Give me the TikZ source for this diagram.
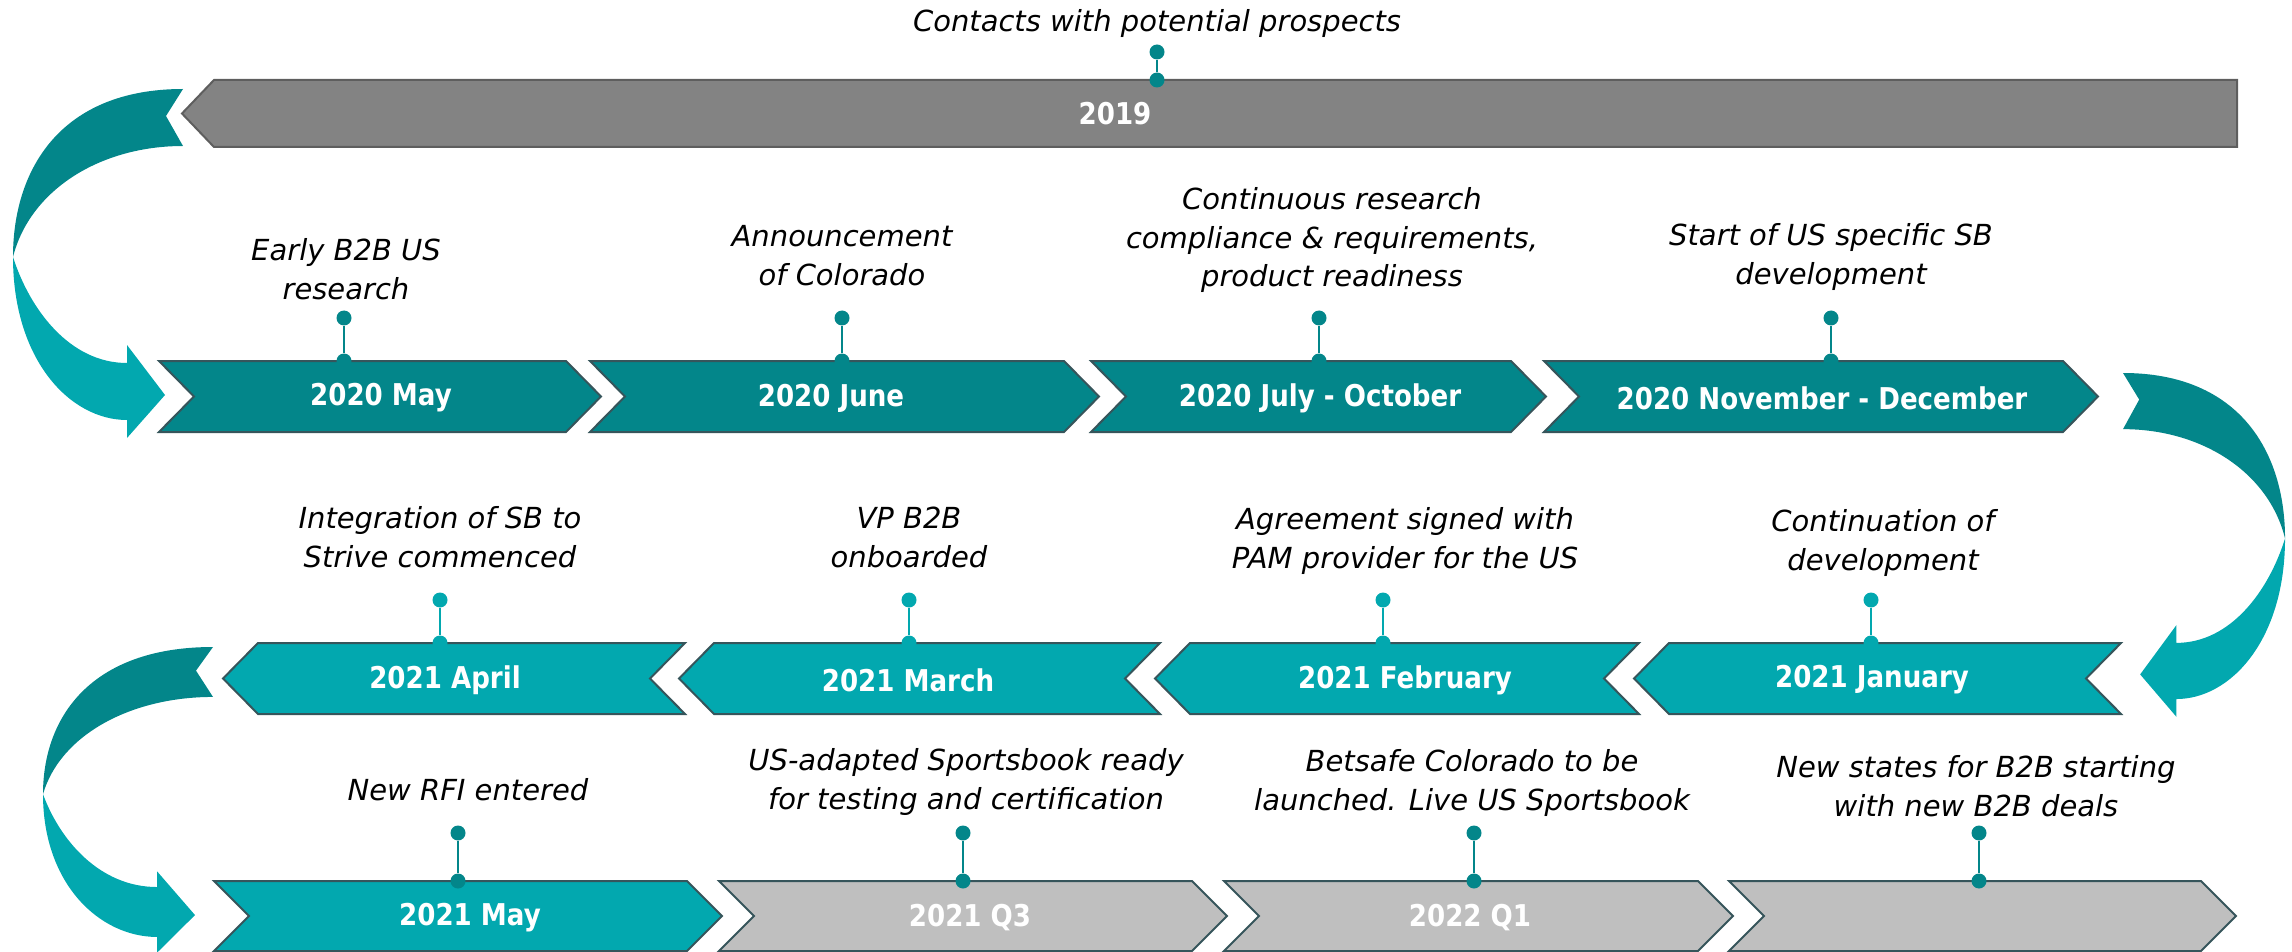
\documentclass[tikz,border=0pt]{standalone}
\usepackage{fontspec}
\setmainfont{DejaVu Sans}
\newfontfamily\barfont{DejaVu Sans}[FakeStretch=0.87]
\definecolor{dteal}{HTML}{03868A}
\definecolor{lteal}{HTML}{02A8AF}
\definecolor{edge}{HTML}{36555B}
\definecolor{gbar}{HTML}{838383}
\definecolor{gedge}{HTML}{5E5E5E}
\definecolor{lgray}{HTML}{BFBFBF}
\newcommand\chevr[5]{%
  \draw[#1] (#2,#4) -- ({#3-35},#4) -- (#3,{(#4+#5)/2}) -- ({#3-35},#5) -- (#2,#5) -- ({#2+35},{(#4+#5)/2}) -- cycle;}
\newcommand\chevl[5]{%
  \draw[#1] (#2,{(#4+#5)/2}) -- ({#2+35},#4) -- (#3,#4) -- ({#3-35},{(#4+#5)/2}) -- (#3,#5) -- ({#2+35},#5) -- cycle;}
\newcommand\curvarrow{%
  \fill[dteal] (0,0) .. controls (-123,0) and (-170,81) .. (-170,168)
     .. controls (-153,101) and (-83,57) .. (0,57) -- (-17,27) -- cycle;
  \fill[lteal] (-170,168) .. controls (-170,271) and (-113,331) .. (-56,331)
     -- (-56,349) -- (-18,306) -- (-56,256) -- (-56,274)
     .. controls (-113,274) and (-153,221) .. (-170,168) -- cycle;}
\tikzset{
  barD/.style={fill=dteal, draw=edge, line width=1pt, line join=miter},
  barL/.style={fill=lteal, draw=edge, line width=1pt, line join=miter},
  barLG/.style={fill=lgray, draw=edge, line width=1pt, line join=miter},
  barG/.style={fill=gbar, draw=gedge, line width=1pt, line join=miter},
  lbl/.style={align=center, inner sep=0pt, font=\fontsize{14.5}{19.5}\selectfont\itshape},
  bartxt/.style={inner sep=0pt, text=white, font=\barfont\fontsize{15}{18}\selectfont\bfseries},
  pindot/.style={circle, fill=#1, inner sep=0pt, minimum size=7.5pt},
  pinline/.style={draw=#1, line width=1.3pt}
}
\begin{document}
\begin{tikzpicture}[x=0.5pt,y=-0.5pt]
\useasboundingbox (0,0) rectangle (2292,952);

% curved arrows
\begin{scope}[shift={(183,89)}]\curvarrow\end{scope}
\begin{scope}[shift={(2123,373)}, xscale=-0.953, yscale=0.985]\curvarrow\end{scope}
\begin{scope}[shift={(213,647)}, yscale=0.876]\curvarrow\end{scope}

% 2019 bar
\draw[barG] (182,113.5) -- (214,80) -- (2237,80) -- (2237,147) -- (214,147) -- cycle;

% row 2020
\chevr{barD}{159}{601}{361}{432}
\chevr{barD}{590}{1099}{361}{432}
\chevr{barD}{1091}{1546}{361}{432}
\chevr{barD}{1544}{2098}{361}{432}

% row 2021 (left)
\chevl{barL}{223}{685}{643}{714}
\chevl{barL}{679}{1160}{643}{714}
\chevl{barL}{1155}{1639}{643}{714}
\chevl{barL}{1634}{2121}{643}{714}

% bottom row
\chevr{barL}{214}{722}{881}{951}
\chevr{barLG}{719}{1227}{881}{951}
\chevr{barLG}{1224}{1733}{881}{951}
\chevr{barLG}{1729}{2236}{881}{951}

% bar texts
\node[bartxt] (t2019) at (1115,114) {2019};
\node[bartxt] (tmay20) at (381,398) {2020 May};
\node[bartxt] (tjun20) at (831,398) {2020 June};
\node[bartxt] (tjul20) at (1320,398) {2020 July - October};
\node[bartxt] (tnov20) at (1822,398) {2020 November - December};
\node[bartxt] (tapr21) at (445,680) {2021 April};
\node[bartxt] (tmar21) at (908,680) {2021 March};
\node[bartxt] (tfeb21) at (1405,680) {2021 February};
\node[bartxt] (tjan21) at (1872,680) {2021 January};
\node[bartxt] (tmay21) at (470,918) {2021 May};
\node[bartxt] (tq321) at (970,918) {2021 Q3};
\node[bartxt] (tq122) at (1470,918) {2022 Q1};

% pins
\foreach \n/\x/\ya/\yb/\c in {a/1157/52/80/dteal,
    b1/344/318/361/dteal, b2/842/318/361/dteal, b3/1319/318/361/dteal, b4/1831/318/361/dteal,
    c1/440/600/643/lteal, c2/909/600/643/lteal, c3/1383/600/643/lteal, c4/1871/600/643/lteal,
    d1/458/833/881/dteal, d2/963/833/881/dteal, d3/1474/833/881/dteal, d4/1979/833/881/dteal}{
  \node[pindot=\c] (pin\n top) at (\x,\ya) {};
  \node[pindot=\c] (pin\n bot) at (\x,\yb) {};
  \draw[pinline=\c] (pin\n top) -- (pin\n bot);
}

% labels
\node[lbl] (la) at (1157,24) {Contacts with potential prospects};
\node[lbl] (lb1) at (346,269) {Early B2B US\\research};
\node[lbl] (lb2) at (842,256) {Announcement\\of Colorado};
\node[lbl] (lb3) at (1332,240) {Continuous research\\compliance \& requirements,\\product readiness};
\node[lbl] (lb4) at (1831,257) {Start of US specific SB\\development};
\node[lbl] (lc1) at (440,537) {Integration of SB to\\Strive commenced};
\node[lbl] (lc2) at (909,537) {VP B2B\\onboarded};
\node[lbl] (lc3) at (1405,541) {Agreement signed with\\PAM provider for the US};
\node[lbl] (lc4) at (1883,543) {Continuation of\\development};
\node[lbl] (ld1) at (468,790) {New RFI entered};
\node[lbl] (ld2) at (966,782) {US-adapted Sportsbook ready\\for testing and certification};
\node[lbl] (ld3) at (1472,783) {Betsafe Colorado to be\\launched. Live US Sportsbook};
\node[lbl] (ld4) at (1976,786) {New states for B2B starting\\with new B2B deals};
\end{tikzpicture}
\end{document}
